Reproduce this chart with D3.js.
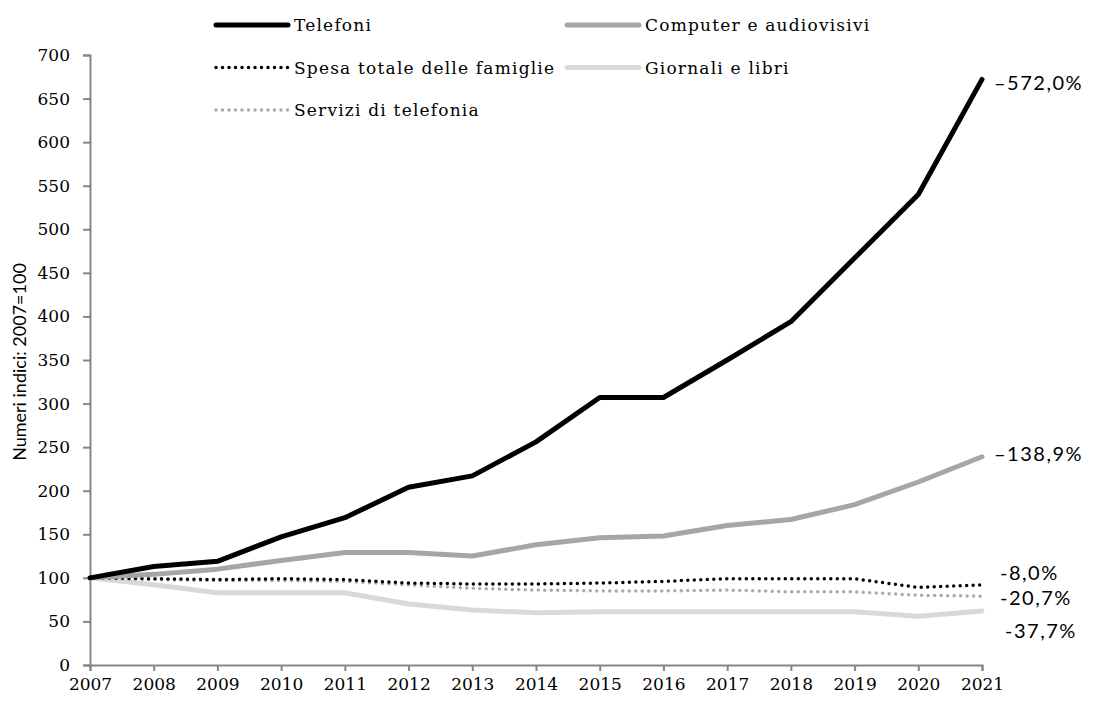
<!DOCTYPE html>
<html>
<head>
<meta charset="utf-8">
<style>
    body, html { margin: 0; padding: 0; background: #fff; }
    svg { display: block; }
    .tick text { font-family: "DejaVu Serif", serif; font-size: 17px; fill: #000; }
    .legend text { font-family: "DejaVu Serif", serif; font-size: 17px; letter-spacing: 1.2px; fill: #000; }
    .endlabel { font-family: Lato, "Liberation Sans", sans-serif; font-size: 20px; letter-spacing: 1.5px; fill: #000; }
</style>
</head>
<body>
<svg width="1097" height="702"></svg>
<script src="https://d3js.org/d3.v7.min.js"></script>
<script>
var years = [2007, 2008, 2009, 2010, 2011, 2012, 2013, 2014, 2015, 2016, 2017, 2018, 2019, 2020, 2021];
var telefoni = [100, 113, 119, 147, 169, 204, 217, 256, 307, 307, 350, 394, 467, 540, 672];
var computer = [100, 104, 110, 120, 129, 129, 125, 138, 146, 148, 160, 167, 184, 210, 239];
var spesa    = [100, 99, 98, 99, 98, 94, 93, 93, 94, 96, 99, 99, 99, 89, 92];
var servizi  = [100, 98, 97, 97, 96, 92, 88, 86, 85, 85, 86, 84, 84, 80, 79];
var giornali = [100, 92, 83, 83, 83, 70, 63, 60, 61, 61, 61, 61, 61, 56, 62];
var yTicks = [0, 50, 100, 150, 200, 250, 300, 350, 400, 450, 500, 550, 600, 650, 700];
var endLabels = ["\u2013572,0%", "\u2013138,9%", "-8,0%", "-20,7%", "-37,7%"];

var mLeft = 90, mRight = 982, mTop = 55, mBottom = 665;

var svg = d3.select("svg");

var x = d3.scaleLinear().domain([2007, 2021]).range([mLeft, mRight]);
var y = d3.scaleLinear().domain([0, 700]).range([mBottom, mTop]);

var axisColor = "#868686";

// axes
var gx = svg.append("g").attr("transform", "translate(0," + mBottom + ")")
    .call(d3.axisBottom(x).tickValues(years).tickFormat(d3.format("d")).tickSizeOuter(0).tickSize(6).tickPadding(7));
var gy = svg.append("g").attr("transform", "translate(" + mLeft + ",0)")
    .call(d3.axisLeft(y).tickValues(yTicks).tickSizeOuter(0).tickSize(7).tickPadding(13));
[gx, gy].forEach(function (g) {
    g.select(".domain").attr("stroke", axisColor).attr("stroke-width", 2);
    g.selectAll(".tick line").attr("stroke", axisColor).attr("stroke-width", 2);
});

svg.append("text")
    .attr("transform", "translate(26," + ((mTop + mBottom) / 2 + 2) + ") rotate(-90)")
    .attr("text-anchor", "middle")
    .style("font-family", "Lato, 'Liberation Sans', sans-serif")
    .style("font-size", "18px")
    .text("Numeri indici: 2007=100");

var series = [
    { name: "Giornali e libri", values: giornali, color: "#d9d9d9", width: 5, dash: null },
    { name: "Servizi di telefonia", values: servizi, color: "#aaaaaa", width: 3.5, dash: "0,6.5" },
    { name: "Spesa totale delle famiglie", values: spesa, color: "#000", width: 3.5, dash: "0,6.5" },
    { name: "Computer e audiovisivi", values: computer, color: "#a6a6a6", width: 5, dash: null },
    { name: "Telefoni", values: telefoni, color: "#000", width: 5, dash: null }
];

var line = d3.line()
    .x(function (d, i) { return x(years[i]); })
    .y(function (d) { return y(d); });

series.forEach(function (s) {
    svg.append("path")
        .attr("d", line(s.values))
        .attr("fill", "none")
        .attr("stroke", s.color)
        .attr("stroke-width", s.width)
        .attr("stroke-linecap", "round")
        .attr("stroke-linejoin", "round")
        .attr("stroke-dasharray", s.dash);
});

// end labels
var endData = [
    { text: endLabels[0], v: telefoni[14], dx: 12, dy: 11 },
    { text: endLabels[1], v: computer[14], dx: 12, dy: 4 },
    { text: endLabels[2], v: spesa[14], dx: 18, dy: -5 },
    { text: endLabels[3], v: servizi[14], dx: 18, dy: 9 },
    { text: endLabels[4], v: giornali[14], dx: 23, dy: 27 }
];
svg.selectAll(".endlabel").data(endData).enter().append("text")
    .attr("class", "endlabel")
    .attr("x", function (d) { return mRight + d.dx; })
    .attr("y", function (d) { return y(d.v) + d.dy; })
    .text(function (d) { return d.text; });

// legend
var legendItems = [
    { s: series[4], col: 0, row: 0 },
    { s: series[3], col: 1, row: 0 },
    { s: series[2], col: 0, row: 1 },
    { s: series[0], col: 1, row: 1 },
    { s: series[1], col: 0, row: 2 }
];
var legend = svg.append("g").attr("class", "legend");
legendItems.forEach(function (d) {
    var lx = 216 + d.col * 351, ly = 25 + d.row * 42.5;
    legend.append("line")
        .attr("x1", lx).attr("x2", lx + 72)
        .attr("y1", ly).attr("y2", ly)
        .attr("stroke", d.s.color)
        .attr("stroke-width", d.s.width)
        .attr("stroke-linecap", "round")
        .attr("stroke-dasharray", d.s.dash);
    legend.append("text")
        .attr("x", lx + 78).attr("y", ly + 6)
        .text(d.s.name);
});
</script>
</body>
</html>
